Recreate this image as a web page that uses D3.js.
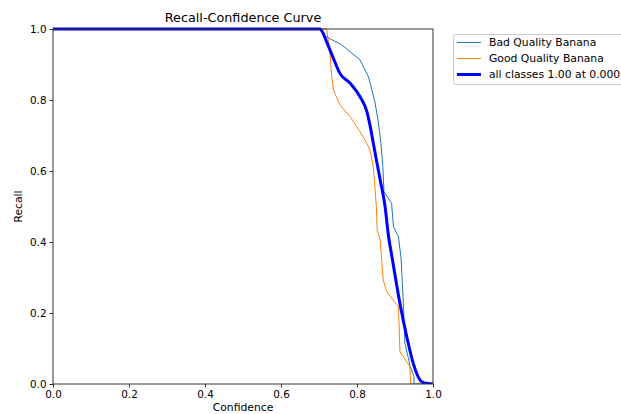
<!DOCTYPE html>
<html><head><meta charset="utf-8">
<script src="https://cdn.jsdelivr.net/npm/d3@7"></script>
<style>
html,body{margin:0;padding:0;background:#fff;}
text{font-family:"DejaVu Sans",sans-serif;fill:#000;}
</style></head>
<body><svg id="c" width="621" height="414"></svg>
<script>
const title = "Recall-Confidence Curve";
const xLabel = "Confidence";
const yLabel = "Recall";
const xTicks = [0, 0.2, 0.4, 0.6, 0.8, 1.0];
const yTicks = [0, 0.2, 0.4, 0.6, 0.8, 1.0];
const seriesNames = ["Bad Quality Banana", "Good Quality Banana", "all classes 1.00 at 0.000"];
const badConf =   [0, 0.700, 0.711, 0.760, 0.808, 0.830, 0.847, 0.856, 0.863, 0.868, 0.871, 0.891, 0.896, 0.909, 0.916, 0.922, 0.926, 0.940, 0.950, 0.950, 1.0];
const badRecall = [1, 1, 0.983, 0.955, 0.913, 0.866, 0.795, 0.739, 0.678, 0.612, 0.542, 0.509, 0.443, 0.415, 0.354, 0.227, 0.115, 0.050, 0.020, 0, 0];
const goodConf =   [0, 0.720, 0.729, 0.733, 0.738, 0.755, 0.782, 0.808, 0.826, 0.834, 0.843, 0.851, 0.853, 0.861, 0.865, 0.869, 0.878, 0.909, 0.911, 0.913, 0.922, 0.939, 0.941, 0.941, 1.0];
const goodRecall = [1, 1, 0.936, 0.870, 0.828, 0.786, 0.753, 0.711, 0.678, 0.659, 0.612, 0.499, 0.434, 0.406, 0.349, 0.293, 0.260, 0.218, 0.161, 0.091, 0.077, 0.049, 0.002, 0, 0];
const allConf =   [0, 0.703, 0.720, 0.738, 0.755, 0.782, 0.808, 0.826, 0.834, 0.843, 0.853, 0.861, 0.874, 0.882, 0.893, 0.913, 0.931, 0.948, 0.966, 0.975, 1.0];
const allRecall = [1, 1, 0.964, 0.917, 0.875, 0.847, 0.809, 0.767, 0.730, 0.678, 0.620, 0.575, 0.499, 0.424, 0.352, 0.227, 0.133, 0.058, 0.011, 0.004, 0];

const svg = d3.select("#c");
const L = 53, R = 433, T = 29, B = 384;
const x = d3.scaleLinear().domain([0, 1]).range([L, R]);
const y = d3.scaleLinear().domain([0, 1]).range([B, T]);

const clip = svg.append("defs").append("clipPath").attr("id", "pc");
clip.append("rect").attr("x", L).attr("y", T - 2).attr("width", R - L).attr("height", B - T + 2);

const zip = (a, b) => a.map((v, i) => [v, b[i]]);
const lin = d3.line().x(d => x(d[0])).y(d => y(d[1]));
const smooth = d3.line().x(d => x(d[0])).y(d => y(d[1])).curve(d3.curveMonotoneX);

const g = svg.append("g").attr("clip-path", "url(#pc)");
g.append("path").attr("d", lin(zip(badConf, badRecall))).attr("fill", "none").attr("stroke", "#1f77b4").attr("stroke-width", 1);
g.append("path").attr("d", lin(zip(goodConf, goodRecall))).attr("fill", "none").attr("stroke", "#ff7f0e").attr("stroke-width", 1);
g.append("path").attr("d", smooth(zip(allConf, allRecall))).attr("fill", "none").attr("stroke", "blue").attr("stroke-width", 3);

// frame
svg.append("rect").attr("x", L).attr("y", T).attr("width", R - L).attr("height", B - T)
  .attr("fill", "none").attr("stroke", "#333").attr("stroke-width", 1);

const xa = svg.append("g").attr("transform", `translate(0,${B})`)
  .call(d3.axisBottom(x).tickValues(xTicks).tickFormat(d3.format(".1f")).tickSize(3.5).tickPadding(3));
const ya = svg.append("g").attr("transform", `translate(${L},0)`)
  .call(d3.axisLeft(y).tickValues(yTicks).tickFormat(d3.format(".1f")).tickSize(3.5).tickPadding(3));
[xa, ya].forEach(a => {
  a.select(".domain").remove();
  a.selectAll("line").attr("stroke", "#333");
  a.selectAll("text").style("font-family", "DejaVu Sans").style("font-size", "10.4px").attr("fill", "#000");
});

svg.append("text").attr("x", (L + R) / 2).attr("y", 22).attr("text-anchor", "middle").style("font-size", "12.8px").text(title);
svg.append("text").attr("x", (L + R) / 2).attr("y", 411).attr("text-anchor", "middle").style("font-size", "10.8px").text(xLabel);
svg.append("text").attr("transform", `translate(22,${(T + B) / 2}) rotate(-90)`).attr("text-anchor", "middle").style("font-size", "10.8px").text(yLabel);

// legend
const lg = svg.append("g");
lg.append("rect").attr("x", 453.5).attr("y", 34.5).attr("width", 170).attr("height", 50).attr("rx", 2)
  .attr("fill", "#fff").attr("stroke", "#ccc").attr("stroke-width", 1);
const colors = ["#1f77b4", "#ff7f0e", "blue"], widths = [1, 1, 3];
seriesNames.forEach((n, i) => {
  const yy = 42.5 + i * 16;
  lg.append("line").attr("x1", 457).attr("x2", 481).attr("y1", yy).attr("y2", yy).attr("stroke", colors[i]).attr("stroke-width", widths[i]);
  lg.append("text").attr("x", 489).attr("y", yy + 3.8).style("font-size", "10.8px").text(n);
});
</script></body></html>
